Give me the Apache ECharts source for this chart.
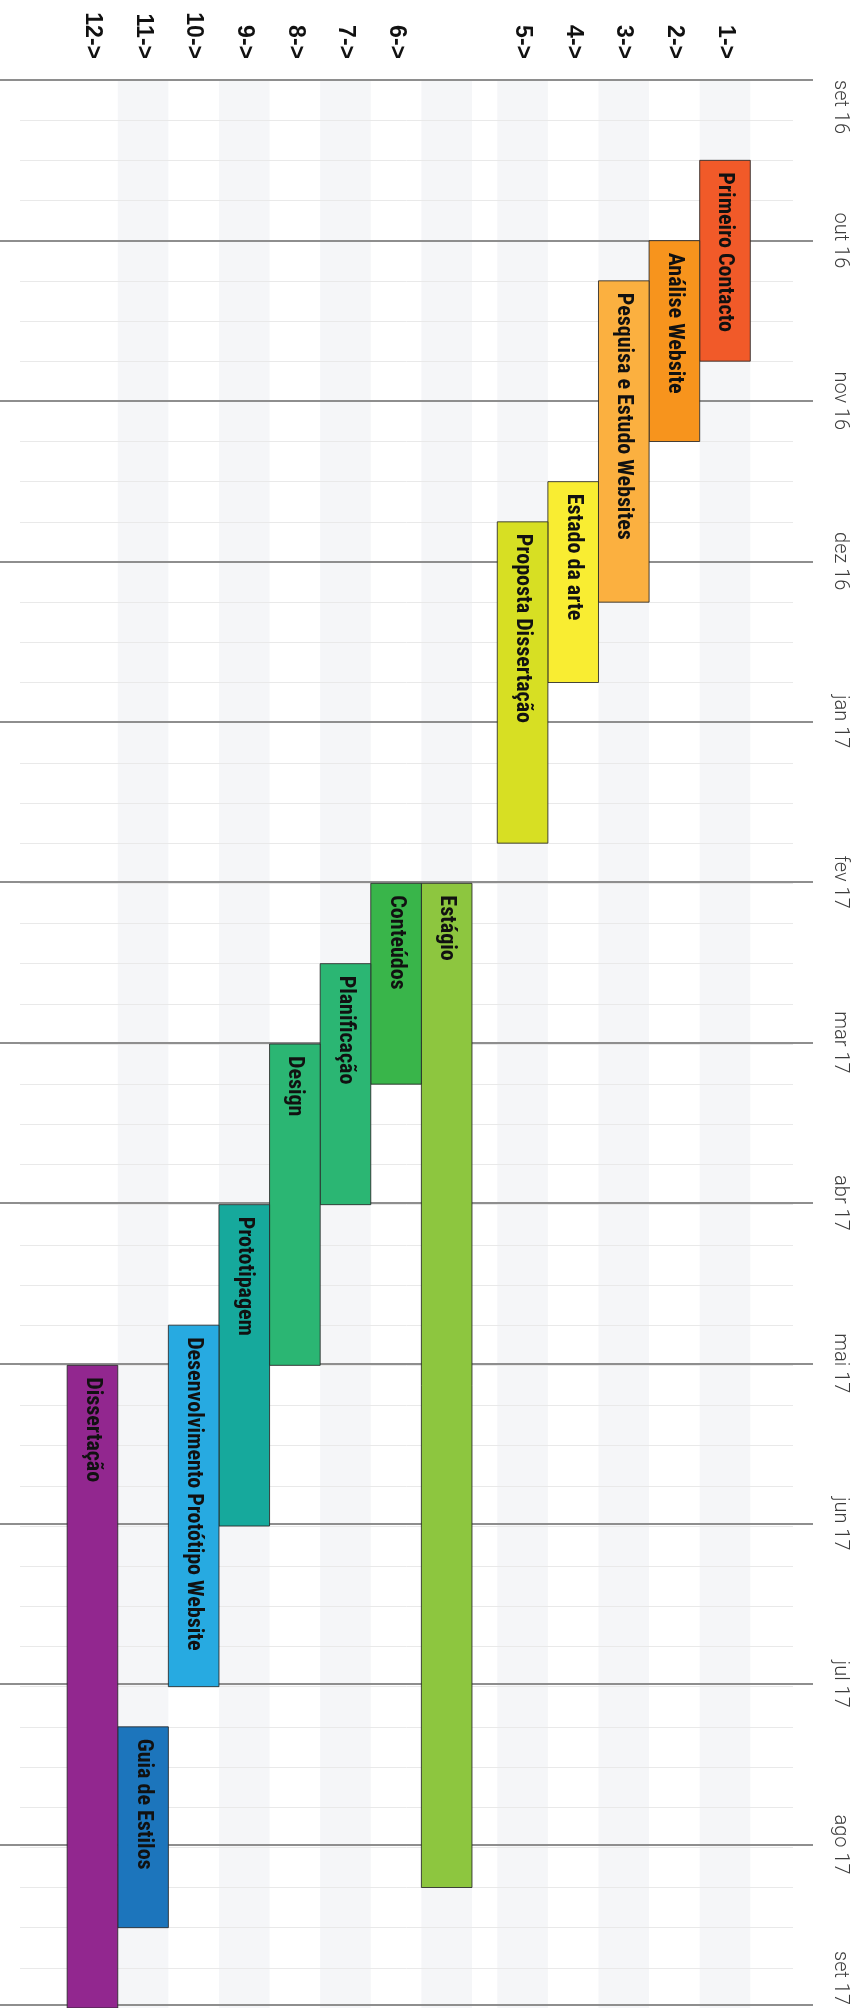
<!DOCTYPE html>
<html>
<head>
<meta charset="utf-8">
<title>Cronograma</title>
<style>
  html, body { margin: 0; padding: 0; background: #ffffff; }
  #chart { width: 857px; height: 2008px; }
</style>
<script src="https://cdn.jsdelivr.net/npm/echarts@6/dist/echarts.min.js"></script>
</head>
<body>
<div id="chart"></div>
<script>
// Months shown on the time axis (each month split into four steps)
const monthLabels = ['set 16', 'out 16', 'nov 16', 'dez 16', 'jan 17', 'fev 17', 'mar 17',
                     'abr 17', 'mai 17', 'jun 17', 'jul 17', 'ago 17', 'set 17'];

// Row captions, in order; the internship row carries no caption
const rowLabels = ['1->', '2->', '3->', '4->', '5->', '', '6->', '7->', '8->', '9->', '10->', '11->', '12->'];

// Tasks: row index, start step and end step (quarter-months from set 16)
const taskNames = ['Primeiro Contacto', 'Análise Website', 'Pesquisa e Estudo Websites', 'Estado da arte',
                   'Proposta Dissertação', 'Estágio', 'Conteúdos', 'Planificação', 'Design',
                   'Prototipagem', 'Desenvolvimento Protótipo Website', 'Guia de Estilos', 'Dissertação'];
const taskRow   = [0, 1, 2, 3, 4, 5, 6, 7, 8, 9, 10, 11, 12];
const taskStart = [2, 4, 5, 10, 11, 20, 20, 22, 24, 28, 31, 41, 32];
const taskEnd   = [7, 9, 13, 15, 19, 45, 25, 28, 32, 36, 40, 46, 48];

const taskColors = ['#f15a29', '#f7941d', '#fbb040', '#f9ed32', '#d7df23', '#8dc63f', '#39b54a',
                    '#2bb673', '#2bb673', '#16a99c', '#27aae1', '#1c75bc', '#92278f'];

const STEPS_PER_MONTH = 4;
const totalSteps = (monthLabels.length - 1) * STEPS_PER_MONTH;
const GAP_AFTER = 5; // rows before the half-slot gap

// Row slot position: one unit per row, with half a unit of space after the fifth row
function rowPos(i) { return i + 0.5 + (i >= GAP_AFTER ? 0.5 : 0); }

// Shaded rows alternate within each block, each block starting shaded
function isShaded(i) { return (i < GAP_AFTER ? i : i - GAP_AFTER) % 2 === 0; }

const labeledRows = rowLabels.map((l, i) => i).filter(i => rowLabels[i] !== '');
const stripeRows = rowLabels.map((l, i) => i).filter(isShaded);

const taskData = taskNames.map((n, i) => [rowPos(taskRow[i]), taskStart[i], taskEnd[i], i]);
const stripeData = stripeRows.map(i => [rowPos(i)]);

const barFont = "bold 22px 'Roboto Condensed', 'Liberation Sans Narrow', 'DejaVu Sans Condensed', 'Liberation Sans', sans-serif";

function slotRect(api, pos, s, e) {
  const a = api.coord([pos - 0.5, s]);
  const b = api.coord([pos + 0.5, e]);
  const x = Math.min(a[0], b[0]);
  const y = Math.min(a[1], b[1]);
  return { x: x, y: y, width: Math.abs(b[0] - a[0]), height: Math.abs(b[1] - a[1]) };
}

const chart = echarts.init(document.getElementById('chart'), null, { renderer: 'canvas' });

chart.setOption({
  animation: false,
  backgroundColor: '#ffffff',
  grid: [
    { left: 0, right: 44, top: 80, bottom: 0 },   // month lines + month captions
    { left: 20, right: 64, top: 80, bottom: 0 }   // rows, steps and bars
  ],
  xAxis: [
    { gridIndex: 0, type: 'value', min: 0, max: 1, show: false },
    {
      gridIndex: 1, type: 'value', inverse: true, position: 'top',
      min: -0.844, max: 14.432,
      axisLine: { show: false }, axisTick: { show: false }, splitLine: { show: false },
      axisLabel: {
        customValues: labeledRows.map(rowPos),
        formatter: function (v) {
          const i = labeledRows.find(k => Math.abs(rowPos(k) - v) < 1e-6);
          return i === undefined ? '' : rowLabels[i];
        },
        rotate: -90, align: 'right', verticalAlign: 'middle', margin: 21,
        color: '#111111', fontSize: 23, fontWeight: 'bold',
        fontFamily: "'Liberation Sans', Arial, sans-serif"
      }
    }
  ],
  yAxis: [
    {
      gridIndex: 0, type: 'value', inverse: true, position: 'right',
      min: 0, max: totalSteps, interval: STEPS_PER_MONTH, z: 1.5,
      axisLine: { show: false }, axisTick: { show: false },
      splitLine: { show: true, lineStyle: { color: '#8e8e8e', width: 2 } },
      axisLabel: {
        formatter: v => monthLabels[Math.round(v / STEPS_PER_MONTH)],
        rotate: -90, align: 'center', verticalAlign: 'middle', margin: 27,
        alignMinLabel: 'left', alignMaxLabel: 'right',
        color: '#3c3c3c', fontSize: 20, fontWeight: 300,
        fontFamily: "Roboto, 'Liberation Sans', sans-serif"
      }
    },
    {
      gridIndex: 1, type: 'value', inverse: true,
      min: 0, max: totalSteps, interval: 1, z: 1,
      axisLine: { show: false }, axisTick: { show: false }, axisLabel: { show: false },
      splitLine: { show: true, lineStyle: { color: '#e9e9e9', width: 1 } }
    }
  ],
  series: [
    {
      name: 'faixas', type: 'custom', xAxisIndex: 1, yAxisIndex: 1, z: 0, silent: true,
      data: stripeData,
      renderItem: function (params, api) {
        const r = slotRect(api, api.value(0), 0, totalSteps);
        return { type: 'rect', shape: r, style: { fill: '#f5f6f8' } };
      }
    },
    {
      name: 'tarefas', type: 'custom', xAxisIndex: 1, yAxisIndex: 1, z: 3,
      data: taskData,
      renderItem: function (params, api) {
        const idx = api.value(3);
        const r = slotRect(api, api.value(0), api.value(1), api.value(2));
        return {
          type: 'group',
          children: [
            {
              type: 'rect', shape: r,
              style: { fill: taskColors[idx], stroke: 'rgba(40,40,40,0.85)', lineWidth: 1 }
            },
            {
              type: 'text', x: r.x + r.width / 2, y: r.y + 12, rotation: -Math.PI / 2,
              style: {
                text: taskNames[idx], fill: '#111111', font: barFont,
                align: 'left', verticalAlign: 'middle'
              }
            }
          ]
        };
      }
    }
  ]
});
</script>
</body>
</html>
